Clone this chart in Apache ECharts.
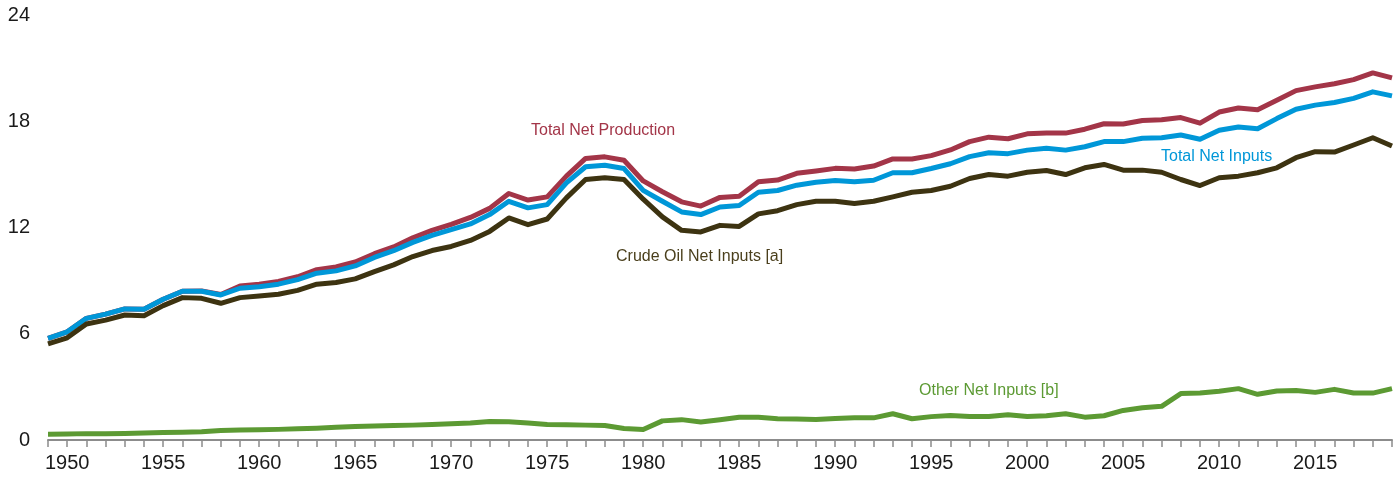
<!DOCTYPE html>
<html>
<head>
<meta charset="utf-8">
<title>Refinery net inputs and net production</title>
<script src="https://cdn.jsdelivr.net/npm/echarts@6/dist/echarts.min.js"></script>
<style>
  html, body { margin: 0; padding: 0; background: #ffffff; }
  #chart { width: 1400px; height: 478px; }
</style>
</head>
<body>
<div id="chart"></div>
<script>
// Years on the horizontal axis
const years = [
  1949, 1950, 1951, 1952, 1953, 1954, 1955, 1956, 1957, 1958,
  1959, 1960, 1961, 1962, 1963, 1964, 1965, 1966, 1967, 1968,
  1969, 1970, 1971, 1972, 1973, 1974, 1975, 1976, 1977, 1978,
  1979, 1980, 1981, 1982, 1983, 1984, 1985, 1986, 1987, 1988,
  1989, 1990, 1991, 1992, 1993, 1994, 1995, 1996, 1997, 1998,
  1999, 2000, 2001, 2002, 2003, 2004, 2005, 2006, 2007, 2008,
  2009, 2010, 2011, 2012, 2013, 2014, 2015, 2016, 2017, 2018,
  2019
];

// Million barrels per day
const totalNetProduction = [
  5.74, 6.11, 6.87, 7.11, 7.40, 7.38, 7.95, 8.40, 8.42, 8.22,
  8.70, 8.80, 8.95, 9.22, 9.62, 9.77, 10.05, 10.52, 10.90, 11.42,
  11.84, 12.18, 12.57, 13.08, 13.92, 13.55, 13.73, 14.90, 15.90, 15.99,
  15.80, 14.63, 14.02, 13.45, 13.21, 13.70, 13.77, 14.58, 14.68, 15.06,
  15.19, 15.34, 15.30, 15.47, 15.87, 15.87, 16.06, 16.38, 16.85, 17.10,
  17.01, 17.29, 17.33, 17.33, 17.55, 17.86, 17.84, 18.04, 18.08, 18.21,
  17.89, 18.52, 18.75, 18.65, 19.18, 19.73, 19.94, 20.12, 20.35, 20.73,
  20.45
];

const totalNetInputs = [
  5.74, 6.11, 6.87, 7.11, 7.40, 7.38, 7.95, 8.40, 8.40, 8.19,
  8.57, 8.66, 8.80, 9.06, 9.42, 9.55, 9.83, 10.31, 10.69, 11.16,
  11.55, 11.88, 12.20, 12.73, 13.48, 13.11, 13.29, 14.52, 15.43, 15.52,
  15.33, 14.10, 13.48, 12.88, 12.73, 13.16, 13.24, 13.99, 14.09, 14.39,
  14.56, 14.65, 14.58, 14.67, 15.09, 15.09, 15.33, 15.60, 16.00, 16.22,
  16.17, 16.37, 16.47, 16.37, 16.56, 16.85, 16.85, 17.04, 17.07, 17.22,
  16.98, 17.49, 17.68, 17.58, 18.15, 18.68, 18.91, 19.06, 19.29, 19.66,
  19.43
];

const crudeOilNetInputs = [
  5.43, 5.77, 6.55, 6.77, 7.06, 7.02, 7.59, 8.04, 8.00, 7.72,
  8.04, 8.13, 8.23, 8.45, 8.80, 8.89, 9.10, 9.51, 9.89, 10.36,
  10.70, 10.93, 11.27, 11.78, 12.54, 12.16, 12.48, 13.67, 14.71, 14.81,
  14.71, 13.60, 12.60, 11.84, 11.75, 12.12, 12.06, 12.77, 12.95, 13.29,
  13.48, 13.48, 13.35, 13.48, 13.73, 13.99, 14.09, 14.33, 14.77, 14.99,
  14.90, 15.12, 15.22, 14.99, 15.37, 15.56, 15.24, 15.24, 15.12, 14.71,
  14.37, 14.81, 14.90, 15.09, 15.37, 15.94, 16.28, 16.26, 16.66, 17.07,
  16.60
];

const otherNetInputs = [
  0.33, 0.34, 0.36, 0.35, 0.37, 0.40, 0.43, 0.44, 0.46, 0.54,
  0.56, 0.58, 0.60, 0.63, 0.67, 0.72, 0.76, 0.79, 0.82, 0.84,
  0.88, 0.92, 0.96, 1.05, 1.03, 0.96, 0.87, 0.86, 0.84, 0.82,
  0.65, 0.59, 1.08, 1.15, 1.02, 1.14, 1.28, 1.28, 1.20, 1.18,
  1.16, 1.22, 1.26, 1.25, 1.48, 1.20, 1.32, 1.38, 1.33, 1.33,
  1.42, 1.33, 1.37, 1.48, 1.29, 1.37, 1.67, 1.82, 1.90, 2.62,
  2.66, 2.75, 2.90, 2.58, 2.77, 2.80, 2.69, 2.86, 2.65, 2.65,
  2.90
];

const yTicks = [0, 6, 12, 18, 24];

const seriesNames = {
  production: 'Total Net Production',
  inputs: 'Total Net Inputs',
  crude: 'Crude Oil Net Inputs [a]',
  other: 'Other Net Inputs [b]'
};

const colors = {
  production: '#a33548',
  inputs: '#0097d8',
  crude: '#3d3311',
  other: '#5c9a33'
};

const FONT = '"Liberation Sans", Arial, sans-serif';

function lineSeries(name, data, color) {
  return {
    name: name,
    type: 'line',
    data: data,
    showSymbol: false,
    symbol: 'none',
    smooth: false,
    lineStyle: { color: color, width: 5, cap: 'butt', join: 'round' },
    emphasis: { disabled: true }
  };
}

function seriesLabel(text, color, left, top) {
  return {
    type: 'text',
    left: left,
    top: top,
    silent: true,
    style: { text: text, fill: color, font: '16px ' + FONT }
  };
}

const chart = echarts.init(document.getElementById('chart'), null, { renderer: 'canvas' });

chart.setOption({
  animation: false,
  backgroundColor: '#ffffff',
  grid: { left: 48, right: 8, top: 15, bottom: 38 },
  xAxis: {
    type: 'category',
    data: years,
    boundaryGap: false,
    axisLine: { show: true, lineStyle: { color: '#8c8c8c', width: 2 } },
    axisTick: { show: true, interval: 0, length: 7, lineStyle: { color: '#8c8c8c', width: 1.5 } },
    axisLabel: {
      interval: function (index, value) { return Number(value) % 5 === 0; },
      color: '#1a1a1a',
      fontFamily: FONT,
      fontSize: 20,
      margin: 13
    },
    splitLine: { show: false }
  },
  yAxis: {
    type: 'value',
    min: yTicks[0],
    max: yTicks[yTicks.length - 1],
    interval: yTicks[1] - yTicks[0],
    axisLine: { show: false },
    axisTick: { show: false },
    splitLine: { show: false },
    axisLabel: {
      color: '#1a1a1a',
      fontFamily: FONT,
      fontSize: 20,
      margin: 18
    }
  },
  series: [
    lineSeries(seriesNames.production, totalNetProduction, colors.production),
    lineSeries(seriesNames.inputs, totalNetInputs, colors.inputs),
    lineSeries(seriesNames.crude, crudeOilNetInputs, colors.crude),
    lineSeries(seriesNames.other, otherNetInputs, colors.other)
  ],
  graphic: [
    seriesLabel(seriesNames.production, colors.production, 531, 123),
    seriesLabel(seriesNames.inputs, colors.inputs, 1161, 149),
    seriesLabel(seriesNames.crude, '#4a3f1c', 616, 249),
    seriesLabel(seriesNames.other, colors.other, 919, 383)
  ]
});
</script>
</body>
</html>
